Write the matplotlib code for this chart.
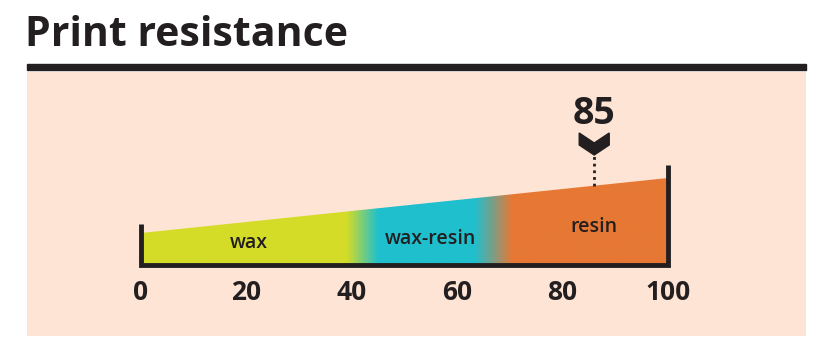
import numpy as np
import matplotlib.pyplot as plt
from matplotlib.colors import LinearSegmentedColormap
from matplotlib.patches import Polygon, Rectangle

# data
ticks = [0, 20, 40, 60, 80, 100]
wedge_x = [0, 100]
wedge_h = [32, 87]
stops = [0, 39, 45, 63.5, 70.5, 100]
stop_colors = ["#d4dc27", "#d4dc27", "#1fbfcd", "#1fbfcd", "#e67834", "#e67834"]
zones = ["wax", "wax-resin", "resin"]
zone_x = [20.5, 55, 86]
zone_y = [22, 26, 38]
value = 85

bg = "#fde4d4"
ink = "#231f20"
W, H = 822, 354
fig = plt.figure(figsize=(W / 100, H / 100), dpi=100)
fig.patch.set_facecolor("white")

fig.text(25 / W, 1 - 35 / H, "Print resistance", fontsize=29.5, fontweight="bold",
         family="Open Sans", color=ink, va="center", ha="left")
fig.patches.append(Rectangle((27 / W, 1 - 70 / H), (806 - 27) / W, 6 / H,
                             transform=fig.transFigure, color=ink, figure=fig))

# axes covering the peach panel; 0..100 maps to px 141..668, y in px above baseline
ax = fig.add_axes([27 / W, 18 / H, (806 - 27) / W, (336 - 72) / H])
ax.set_facecolor(bg)
ppu = (668 - 141) / 100
ax.set_xlim((27 - 141) / ppu, (806 - 141) / ppu)
ax.set_ylim(18 - 89, 282 - 89)
for s in ax.spines.values():
    s.set_visible(False)
ax.set_xticks([])
ax.set_yticks([])

# gradient wedge
cmap = LinearSegmentedColormap.from_list("g", list(zip(np.array(stops) / 100, stop_colors)))
grad = np.linspace(0, 1, 500).reshape(1, -1)
im = ax.imshow(grad, cmap=cmap, extent=[0, 100, 0, max(wedge_h)], aspect="auto",
               origin="lower", zorder=2)
poly = Polygon([(wedge_x[0], 0), (wedge_x[0], wedge_h[0]), (wedge_x[1], wedge_h[1]),
                (wedge_x[1], 0)], closed=True, facecolor="none", edgecolor="none",
               transform=ax.transData)
ax.add_patch(poly)
im.set_clip_path(poly)

# bracket
ax.plot([0, 0, 100, 100], [41, 0, 0, 100], color=ink, lw=3.5, zorder=3,
        solid_joinstyle="miter", solid_capstyle="butt")

for t in ticks:
    ax.text(t, -28, str(t), ha="center", va="center", fontsize=19, fontweight="bold",
            family="Open Sans", color=ink)

for name, x, y in zip(zones, zone_x, zone_y):
    ax.text(x, y, name, ha="center", va="center", fontsize=14, fontweight="semibold",
            family="Open Sans", color=ink, zorder=4)

# marker
mx = value + 1
top = np.interp(mx, wedge_x, wedge_h)
ax.plot([mx, mx], [top, 110], color=ink, lw=2, ls=(0, (1, 1.4)), zorder=4)
cw = 15 / ppu
chev = Polygon([(mx - cw, 132), (mx, 122), (mx + cw, 132), (mx + cw, 120),
                (mx, 110), (mx - cw, 120)], closed=True, color=ink, zorder=4)
ax.add_patch(chev)
ax.text(mx, 151, str(value), ha="center", va="center", fontsize=27, fontweight="bold",
        family="Open Sans", color=ink)

fig.savefig("out.png", dpi=100)
